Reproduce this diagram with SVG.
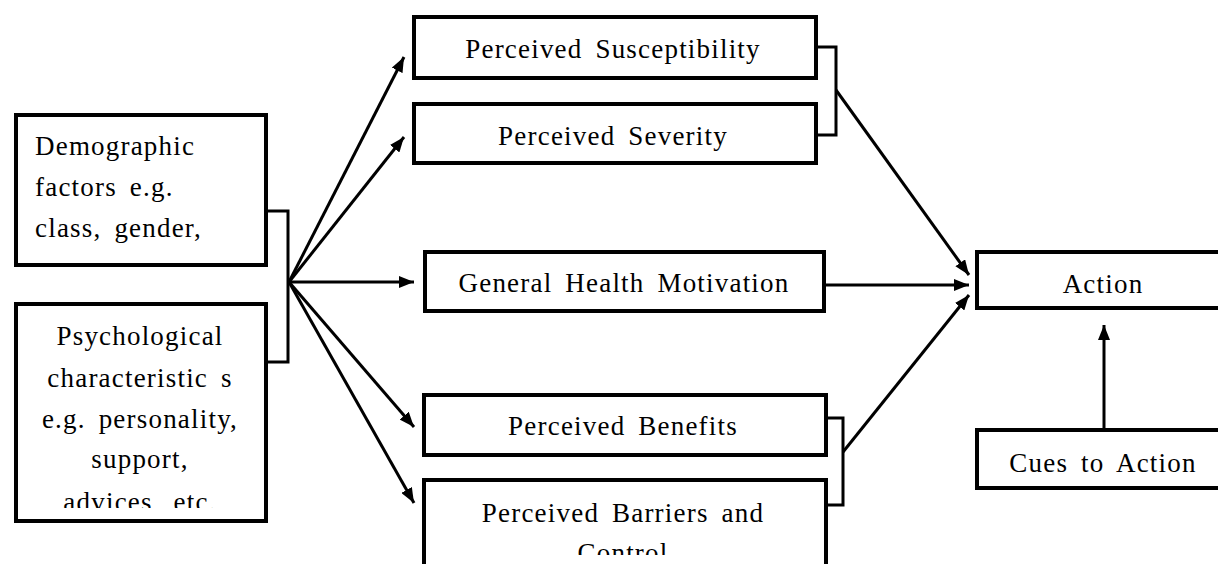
<svg xmlns="http://www.w3.org/2000/svg" width="1218" height="564" viewBox="0 0 1218 564">
  <style>
    .box { fill: #ffffff; stroke: #000000; stroke-width: 4; }
    .lbl { font-size: 27px; fill: #000000; letter-spacing: 1.2px; word-spacing: 5px; }
    .mid { text-anchor: middle; }
    .wire { fill: none; stroke: #000000; stroke-width: 3; }
    .arrow { fill: none; stroke: #000000; stroke-width: 3; marker-end: url(#head); }
  </style>
  <defs>
    <marker id="head" markerUnits="userSpaceOnUse" markerWidth="16" markerHeight="12" refX="15" refY="6" orient="auto">
      <path d="M0,0 L15,6 L0,12 Z" fill="#000000"/>
    </marker>
    <clipPath id="clipPsych"><rect x="16" y="304" width="250" height="204"/></clipPath>
    <clipPath id="clipBarrier"><rect x="424" y="480" width="402" height="75"/></clipPath>
  </defs>
  <rect width="1218" height="564" fill="#ffffff"/>

  <!-- connectors -->
  <g id="connectors">
    <path class="wire" d="M268,211 H288 V362 H268"/>
    <line class="arrow" x1="289" y1="282" x2="404" y2="57"/>
    <line class="arrow" x1="289" y1="282" x2="404" y2="137"/>
    <line class="arrow" x1="289" y1="282" x2="414" y2="282"/>
    <line class="arrow" x1="289" y1="282" x2="414" y2="427"/>
    <line class="arrow" x1="289" y1="282" x2="414" y2="503"/>
    <path class="wire" d="M818,47 H836 V135 H818"/>
    <line class="arrow" x1="836" y1="90" x2="969" y2="275"/>
    <line class="arrow" x1="826" y1="285" x2="969" y2="285"/>
    <path class="wire" d="M828,418 H843 V505 H828"/>
    <line class="arrow" x1="843" y1="452" x2="969" y2="295"/>
    <line class="arrow" x1="1104" y1="428" x2="1104" y2="325"/>
  </g>

  <g font-family="'Liberation Serif', 'DejaVu Serif', 'Times New Roman', serif">
    <g id="demographic">
      <rect class="box" x="16" y="115" width="250" height="150"/>
      <text class="lbl" x="35" y="155">Demographic</text>
      <text class="lbl" x="35" y="196">factors e.g.</text>
      <text class="lbl" x="35" y="237">class, gender,</text>
    </g>

    <g id="psychological">
      <rect class="box" x="16" y="304" width="250" height="217"/>
      <g clip-path="url(#clipPsych)">
        <text class="lbl mid" x="140" y="345">Psychological</text>
        <text class="lbl mid" x="140" y="387">characteristic s</text>
        <text class="lbl mid" x="140" y="428">e.g. personality,</text>
        <text class="lbl mid" x="140" y="468">support,</text>
        <text class="lbl mid" x="140" y="511">advices, etc.</text>
      </g>
    </g>

    <g id="susceptibility">
      <rect class="box" x="414" y="17" width="402" height="61"/>
      <text class="lbl mid" x="613" y="58">Perceived Susceptibility</text>
    </g>

    <g id="severity">
      <rect class="box" x="414" y="104" width="402" height="59"/>
      <text class="lbl mid" x="613" y="145">Perceived Severity</text>
    </g>

    <g id="motivation">
      <rect class="box" x="425" y="252" width="399" height="59"/>
      <text class="lbl mid" x="624" y="292">General Health Motivation</text>
    </g>

    <g id="benefits">
      <rect class="box" x="424" y="395" width="402" height="60"/>
      <text class="lbl mid" x="623" y="435">Perceived Benefits</text>
    </g>

    <g id="barriers">
      <rect class="box" x="424" y="480" width="402" height="120"/>
      <g clip-path="url(#clipBarrier)">
        <text class="lbl mid" x="623" y="522">Perceived Barriers and</text>
        <text class="lbl mid" x="623" y="562">Control</text>
      </g>
    </g>

    <g id="action">
      <rect class="box" x="977" y="252" width="262" height="56"/>
      <text class="lbl mid" x="1103" y="293">Action</text>
    </g>

    <g id="cues">
      <rect class="box" x="977" y="430" width="262" height="58"/>
      <text class="lbl mid" x="1103" y="472">Cues to Action</text>
    </g>
  </g>
</svg>
